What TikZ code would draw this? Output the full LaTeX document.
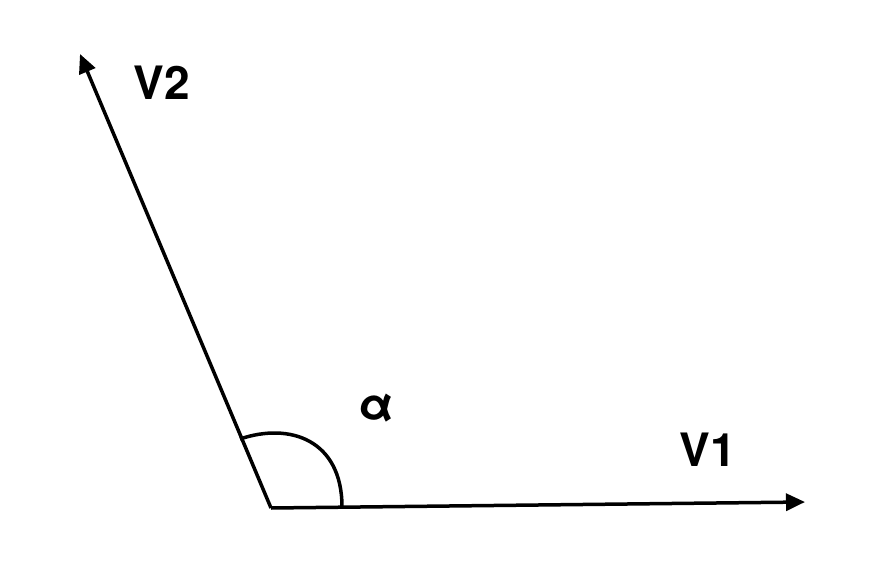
\documentclass[tikz,border=0pt]{standalone}
\usepackage{fontspec}
\setmainfont{TeX Gyre Heros}
\usetikzlibrary{arrows.meta}
\begin{document}
\begin{tikzpicture}[x=1pt,y=-1pt,line width=3.5pt,
    vec/.style={-{Triangle[length=19pt,width=17pt]}},
    lbl/.style={font=\fontsize{46}{56}\selectfont\bfseries,inner sep=0pt}]
  \useasboundingbox (0,0) rectangle (870,586);
  \coordinate (o) at (271,508);
  \coordinate (v1) at (805,502);
  \coordinate (v2) at (80,54);
  \draw[vec] (o) -- (v1);
  \draw[vec] (o) -- (v2);
  \coordinate (a2) at (240,439);
  \coordinate (a1) at (342,507);
  \draw (a2) .. controls (290,422) and (342,440) .. (a1);
  \node[lbl](V1) at (708,450){V1};
  \node[lbl](V2) at (162,83){V2};
  \node[lbl](alpha) at (376,408){α};
\end{tikzpicture}
\end{document}
